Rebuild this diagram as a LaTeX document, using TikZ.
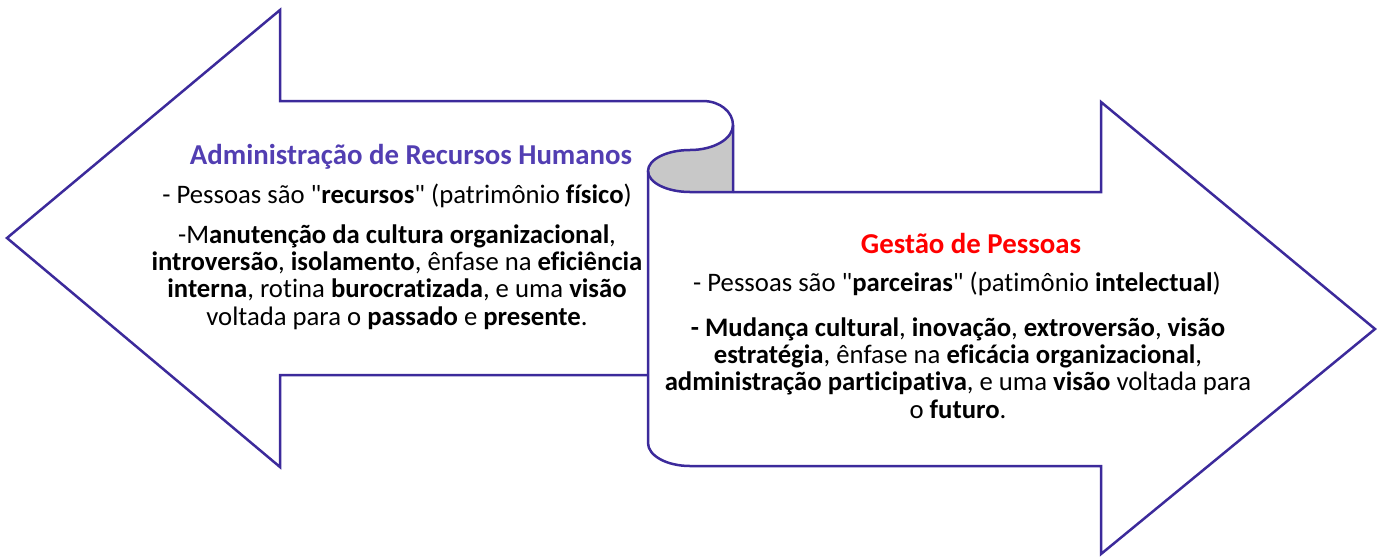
\documentclass[tikz,border=0pt]{standalone}
\usepackage{fontspec}
\setmainfont{Carlito}[Ligatures={NoCommon}]
\usepackage{tikz}

\definecolor{rhline}{RGB}{60,42,155}
\definecolor{rhtitle}{RGB}{82,62,178}
\definecolor{curl}{RGB}{200,200,200}

\begin{document}
\begin{tikzpicture}[x=0.2mm,y=-0.2mm,
  outline/.style={draw=rhline,line width=0.5mm,line join=miter},
  txt/.style={align=center,inner sep=0pt,font=\fontsize{15.2}{15.6}\selectfont},
  ttl/.style={txt,font=\fontsize{16.4}{16.4}\selectfont\bfseries}]
\useasboundingbox (0,0) rectangle (1379,556);

% the curl (filled first)
\fill[curl] (733,125) arc[start angle=0,end angle=90,x radius=43,y radius=25]
  arc[start angle=-90,end angle=-270,x radius=42,y radius=21] -- (733,192) -- cycle;
% left arrow (rolled at its tail)
\draw[outline] (648,375) -- (280,375) -- (280,467) -- (7,238) -- (280,10) -- (280,101)
  -- (703,101) arc[start angle=-90,end angle=0,x radius=30,y radius=24] -- (733,192);
\draw[outline] (733,125) arc[start angle=0,end angle=90,x radius=43,y radius=25]
  arc[start angle=-90,end angle=-270,x radius=42,y radius=21] -- (733,192);
% right arrow
\draw[outline] (733,192) -- (1101,192) -- (1101,102) -- (1375,329) -- (1101,554) -- (1101,466)
  -- (690,466) arc[start angle=90,end angle=180,x radius=42,y radius=23] -- (648,171);

% texts
\node[ttl,text=rhtitle] (rhTitle) at (411,157) {Administração de Recursos Humanos};
\node[txt] (rhOne) at (397,196) {- Pessoas são \textquotedbl\textbf{recursos}\textquotedbl\ (patrimônio \textbf{físico})};
\node[txt] (rhTwo) at (397,277) {-M\textbf{anutenção da cultura organizacional},\\
  \textbf{introversão}, \textbf{isolamento}, ênfase na \textbf{eficiência}\\
  \textbf{interna}, rotina \textbf{burocratizada}, e uma \textbf{visão}\\
  voltada para o \textbf{passado} e \textbf{presente}.};

\node[ttl,text=red] (gpTitle) at (971,243) {Gestão de Pessoas};
\node[txt] (gpOne) at (957,284) {- Pessoas são \textquotedbl\textbf{parceiras}\textquotedbl\ (patimônio \textbf{intelectual})};
\node[txt] (gpTwo) at (958,368) {\textbf{- Mudança cultural}, \textbf{inovação}, \textbf{extroversão}, \textbf{visão}\\
  \textbf{estratégia}, ênfase na \textbf{eficácia organizacional},\\
  \textbf{administração participativa}, e uma \textbf{visão} voltada para\\
  o \textbf{futuro}.};

\end{tikzpicture}
\end{document}
